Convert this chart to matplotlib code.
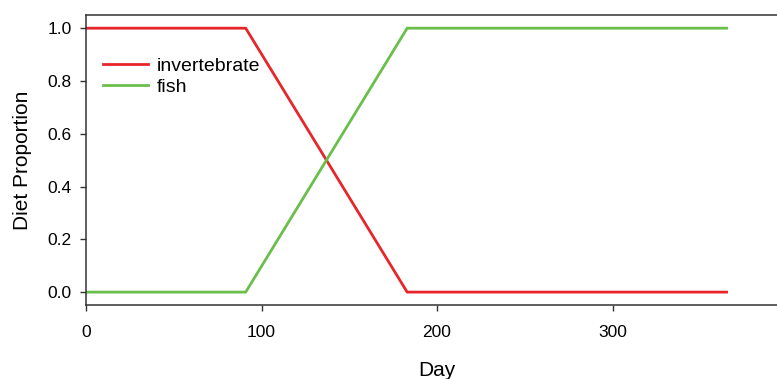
import matplotlib
matplotlib.use('Agg')
import matplotlib.pyplot as plt

# diet switch over the year
day = [0, 91, 183, 365]
invertebrate = [1.0, 1.0, 0.0, 0.0]
fish = [0.0, 0.0, 1.0, 1.0]

plt.rcParams['font.family'] = ['Liberation Sans', 'DejaVu Sans']

fig = plt.figure(figsize=(7.77, 3.79), dpi=100)
ax = fig.add_axes([86/777, 73.7/379, 702/777, 290.3/379])

ax.plot(day, invertebrate, color='#e8262a', lw=2, label='invertebrate')
ax.plot(day, fish, color='#6abf4b', lw=2, label='fish')

ax.set_xlim(0, 400)
ax.set_ylim(-0.05, 1.05)
ax.set_xticks([0, 100, 200, 300])
ax.set_yticks([0.0, 0.2, 0.4, 0.6, 0.8, 1.0])
ax.set_yticklabels(['0.0', '0.2', '0.4', '0.6', '0.8', '1.0'])

for s in ['left', 'top', 'bottom']:
    ax.spines[s].set_color('#333333')
    ax.spines[s].set_linewidth(1.1)
ax.spines['right'].set_visible(False)

ax.tick_params(axis='x', direction='out', length=4.5, width=1, color='#333333',
               labelsize=12.5, pad=10)
ax.tick_params(axis='y', direction='out', length=4.5, width=1, color='#333333',
               labelsize=12.5, pad=6)

ax.set_xlabel('Day', fontsize=15, labelpad=15)
ax.set_ylabel('Diet Proportion', fontsize=15, labelpad=11)

ax.legend(loc='upper left', bbox_to_anchor=(-0.003, 0.92), frameon=False,
          fontsize=14, handlelength=2.3, handletextpad=0.45,
          labelspacing=0.17, borderpad=0, borderaxespad=1.0)

plt.savefig('out.png', dpi=100)
